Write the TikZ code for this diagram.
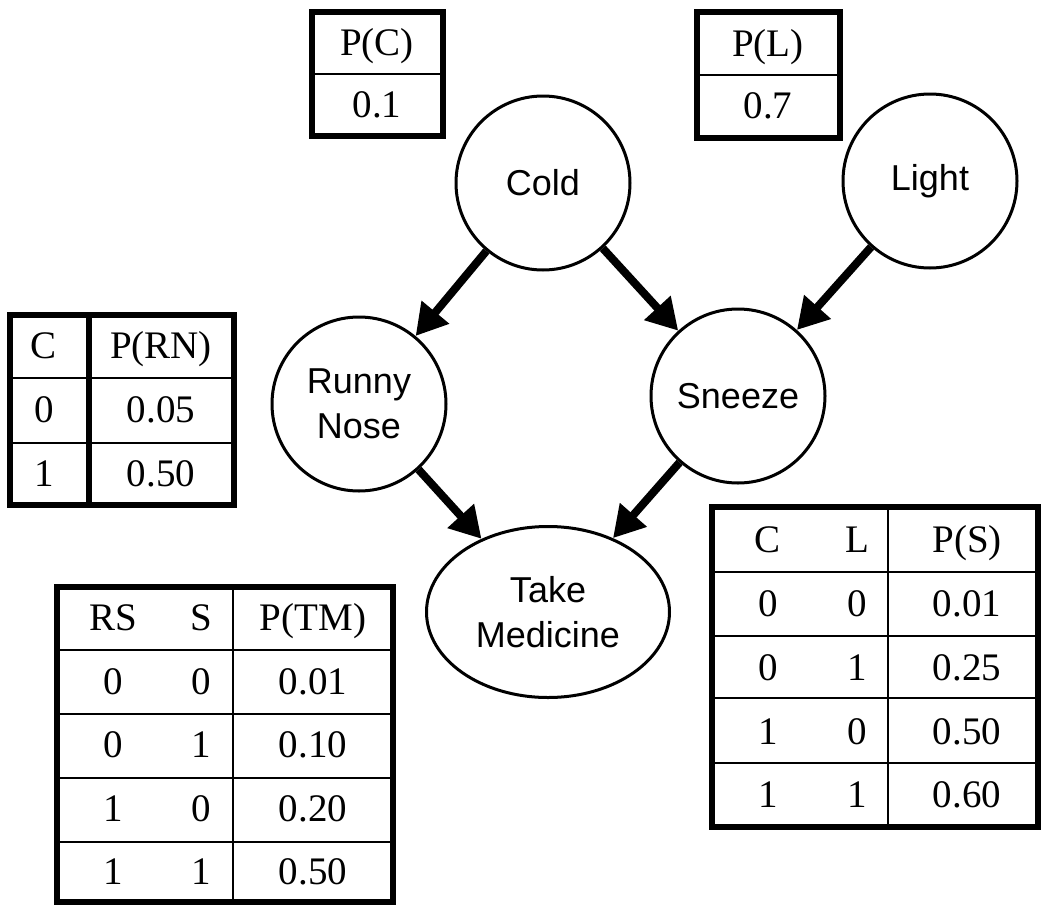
\documentclass[tikz,border=0pt]{standalone}
\usepackage{fontspec}
\setmainfont{Liberation Serif}
\newfontfamily\arialfont{Liberation Sans}
\usetikzlibrary{arrows.meta, shapes.geometric}

\tikzset{
    var/.style = {circle, draw, line width=1.5pt, minimum size=87pt, inner sep=0pt, align=center,
                  font=\arialfont\fontsize{18}{22.5}\selectfont},
    link/.style = {line width=4pt, -{Triangle[length=15.5pt, width=17pt]}},
    cell/.style = {inner sep=0pt, text height=12.9pt, text depth=0pt, font=\fontsize{19.5}{23}\selectfont},
    outer/.style = {line width=2.8pt},
    inner/.style = {line width=1.3pt}
}

\begin{document}
\begin{tikzpicture}[x=0.5pt, y=-0.5pt]
        \useasboundingbox (0,0) rectangle (1045,905);

        \node[var] (cold) at (543,183) {Cold};
        \node[var] (light) at (930,181) {Light};
        \node[var] (runny) at (359,404) {Runny\\Nose};
        \node[var] (sneeze) at (738,396) {Sneeze};
        \node[var, ellipse, minimum width=121.5pt, minimum height=85.5pt] (take) at (548,612) {Take\\Medicine};

        \draw[link] (cold) -- (runny);
        \draw[link] (cold) -- (sneeze);
        \draw[link] (light) -- (sneeze);
        \draw[link] (runny) -- (take);
        \draw[link] (sneeze) -- (take);

        % P(C) and P(L)
        \draw[inner] (312,74) -- (443,74);
        \draw[outer] (312,12) rectangle (443,136);
        \node[cell] (pc-head) at (377,43) {P(C)};
        \node[cell] (pc-val) at (377,105) {0.1};

        \draw[inner] (697,75) -- (840,75);
        \draw[outer] (697,12) rectangle (840,138);
        \node[cell] (pl-head) at (768,44) {P(L)};
        \node[cell] (pl-val) at (768,106) {0.7};

        % runny nose
        \foreach \y in {378,443} \draw[inner] (10,\y) -- (234,\y);
        \draw[outer] (89,315) -- (89,505);
        \draw[outer] (10,315) rectangle (234,505);
        \foreach \c/\p [count=\i] in {C/{P(RN)}, 0/0.05, 1/0.50} {
            \node[cell] (rn-c\i) at (44,{346+64*(\i-1)}) {\c};
            \node[cell] (rn-p\i) at (161,{346+64*(\i-1)}) {\p};
        }

        % sneeze
        \foreach \y in {572,636,698,763} \draw[inner] (712,\y) -- (1038,\y);
        \draw[inner] (888,507) -- (888,827);
        \draw[outer] (712,507) rectangle (1038,827);
        \foreach \c/\l/\p [count=\i] in {C/L/{P(S)}, 0/0/0.01, 0/1/0.25, 1/0/0.50, 1/1/0.60} {
            \node[cell] (s-c\i) at (768,{540+63.75*(\i-1)}) {\c};
            \node[cell] (s-l\i) at (857,{540+63.75*(\i-1)}) {\l};
            \node[cell] (s-p\i) at (967,{540+63.75*(\i-1)}) {\p};
        }

        % take medicine
        \foreach \y in {650,714,778,842} \draw[inner] (57,\y) -- (393,\y);
        \draw[inner] (233,587) -- (233,902);
        \draw[outer] (57,587) rectangle (393,902);
        \foreach \r/\s/\p [count=\i] in {RS/S/{P(TM)}, 0/0/0.01, 0/1/0.10, 1/0/0.20, 1/1/0.50} {
            \node[cell] (tm-r\i) at (113,{618+63.5*(\i-1)}) {\r};
            \node[cell] (tm-s\i) at (201,{618+63.5*(\i-1)}) {\s};
            \node[cell] (tm-p\i) at (313,{618+63.5*(\i-1)}) {\p};
        }
\end{tikzpicture}
\end{document}
